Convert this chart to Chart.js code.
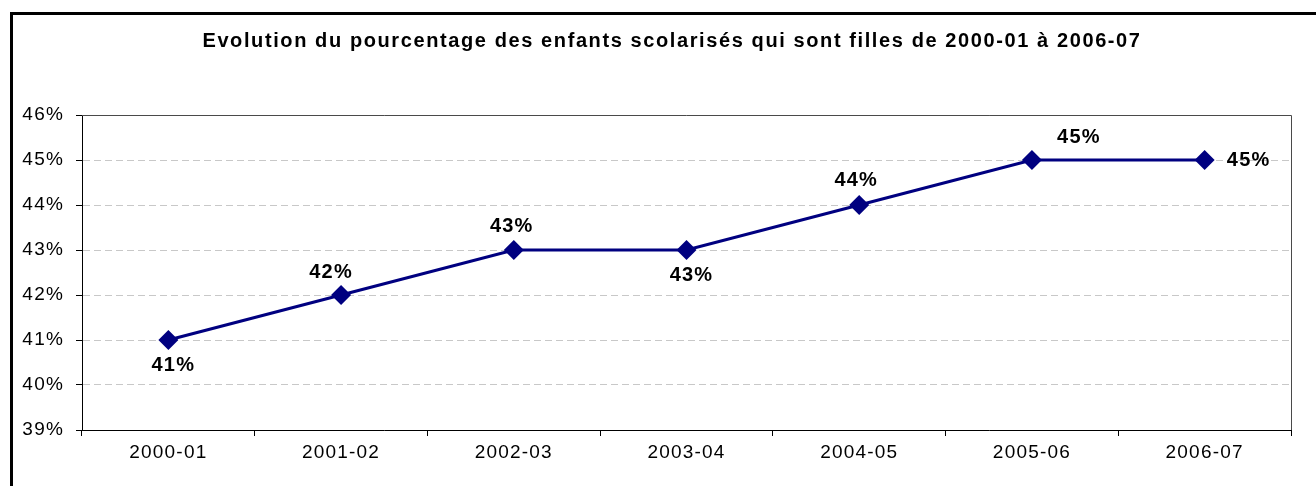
<!DOCTYPE html>
<html>
<head>
<meta charset="utf-8">
<script src="https://cdn.jsdelivr.net/npm/chart.js@4.4.1/dist/chart.umd.min.js"></script>
<style>
  html, body { margin: 0; padding: 0; background: #ffffff; }
  #wrap { width: 1316px; height: 486px; }
</style>
</head>
<body>
<div id="wrap"><canvas id="c" width="1316" height="486"></canvas></div>
<script>
const titleText = "Evolution du pourcentage des enfants scolarisés qui sont filles de 2000-01 à 2006-07";
const categories = ["2000-01", "2001-02", "2002-03", "2003-04", "2004-05", "2005-06", "2006-07"];
const shareGirls = [0.41, 0.42, 0.43, 0.43, 0.44, 0.45, 0.45];
const yMin = 0.39;
const yMax = 0.46;
const yStep = 0.01;

const FONT = "'Liberation Sans', Arial, Helvetica, sans-serif";
const SPACING = '1.2px';

const pct = v => Math.round(v * 100) + '%';

const spacingPlugin = {
  id: 'spacing',
  beforeUpdate(chart) { chart.ctx.letterSpacing = SPACING; },
  beforeLayout(chart) { chart.ctx.letterSpacing = SPACING; },
  beforeDraw(chart) { chart.ctx.letterSpacing = SPACING; }
};

const framePlugin = {
  id: 'frame',
  beforeDatasetsDraw(chart) {
    const ctx = chart.ctx;
    const a = chart.chartArea;
    ctx.save();
    // plot area border (top and right)
    ctx.strokeStyle = '#4a4a4a';
    ctx.lineWidth = 1;
    ctx.beginPath();
    ctx.moveTo(a.left, Math.round(a.top) + 0.5);
    ctx.lineTo(Math.round(a.right) + 0.5, Math.round(a.top) + 0.5);
    ctx.lineTo(Math.round(a.right) + 0.5, a.bottom);
    ctx.stroke();
    ctx.restore();
  },
  afterDraw(chart) {
    const ctx = chart.ctx;
    ctx.save();
    // outer chart frame (runs beyond the picture on right and bottom)
    ctx.strokeStyle = '#000000';
    ctx.lineWidth = 3;
    ctx.strokeRect(11.5, 13.5, 1316, 486);
    // title
    ctx.letterSpacing = '1.6px';
    ctx.fillStyle = '#000000';
    ctx.font = "bold 20px " + FONT;
    ctx.textAlign = 'center';
    ctx.textBaseline = 'middle';
    ctx.fillText(titleText, 672, 41);
    ctx.restore();
  }
};

const labelPlugin = {
  id: 'pointLabels',
  afterDatasetsDraw(chart, args, opts) {
    const ctx = chart.ctx;
    const meta = chart.getDatasetMeta(0);
    const data = chart.data.datasets[0].data;
    ctx.save();
    ctx.letterSpacing = SPACING;
    ctx.fillStyle = '#000000';
    ctx.font = "bold 20px " + FONT;
    ctx.textAlign = 'center';
    ctx.textBaseline = 'middle';
    meta.data.forEach((pt, i) => {
      const off = opts.offsets[i];
      ctx.fillText(pct(data[i]), pt.x + off[0], pt.y + off[1]);
    });
    ctx.restore();
  }
};

new Chart(document.getElementById('c'), {
  type: 'line',
  data: {
    labels: categories,
    datasets: [{
      data: shareGirls,
      borderColor: '#000080',
      backgroundColor: '#000080',
      borderWidth: 3,
      pointStyle: 'rectRot',
      pointRadius: 10,
      pointHoverRadius: 10,
      pointBackgroundColor: '#000080',
      pointBorderColor: '#000080',
      pointBorderWidth: 0,
      tension: 0,
      fill: false
    }]
  },
  options: {
    responsive: false,
    animation: false,
    events: [],
    layout: { padding: { top: 115, right: 25, left: 0, bottom: 0 } },
    plugins: {
      legend: { display: false },
      title: { display: false },
      tooltip: { enabled: false },
      pointLabels: {
        offsets: [[5, 25], [-10, -23], [-2, -24], [5, 25], [-3, -25], [47, -23], [44, 0]]
      }
    },
    scales: {
      x: {
        offset: true,
        grid: {
          offset: true,
          drawOnChartArea: false,
          drawTicks: true,
          tickLength: 6,
          tickColor: '#000000',
          color: '#000000'
        },
        border: { display: true, color: '#000000', width: 1 },
        ticks: {
          color: '#000000',
          font: { family: FONT, size: 19 },
          padding: 5,
          maxRotation: 0,
          autoSkip: false
        },
        afterFit(scale) { scale.height = 56; }
      },
      y: {
        min: yMin,
        max: yMax,
        grid: {
          color: '#c8c8c8',
          lineWidth: 1,
          drawTicks: true,
          tickLength: 6,
          tickColor: '#000000',
          tickBorderDash: []
        },
        border: { display: true, color: '#000000', width: 1, dash: [7, 4] },
        ticks: {
          stepSize: yStep,
          color: '#000000',
          font: { family: FONT, size: 19 },
          padding: 12,
          callback: v => pct(v)
        },
        afterFit(scale) { scale.width = 82; }
      }
    }
  },
  plugins: [spacingPlugin, framePlugin, labelPlugin]
});
</script>
</body>
</html>
